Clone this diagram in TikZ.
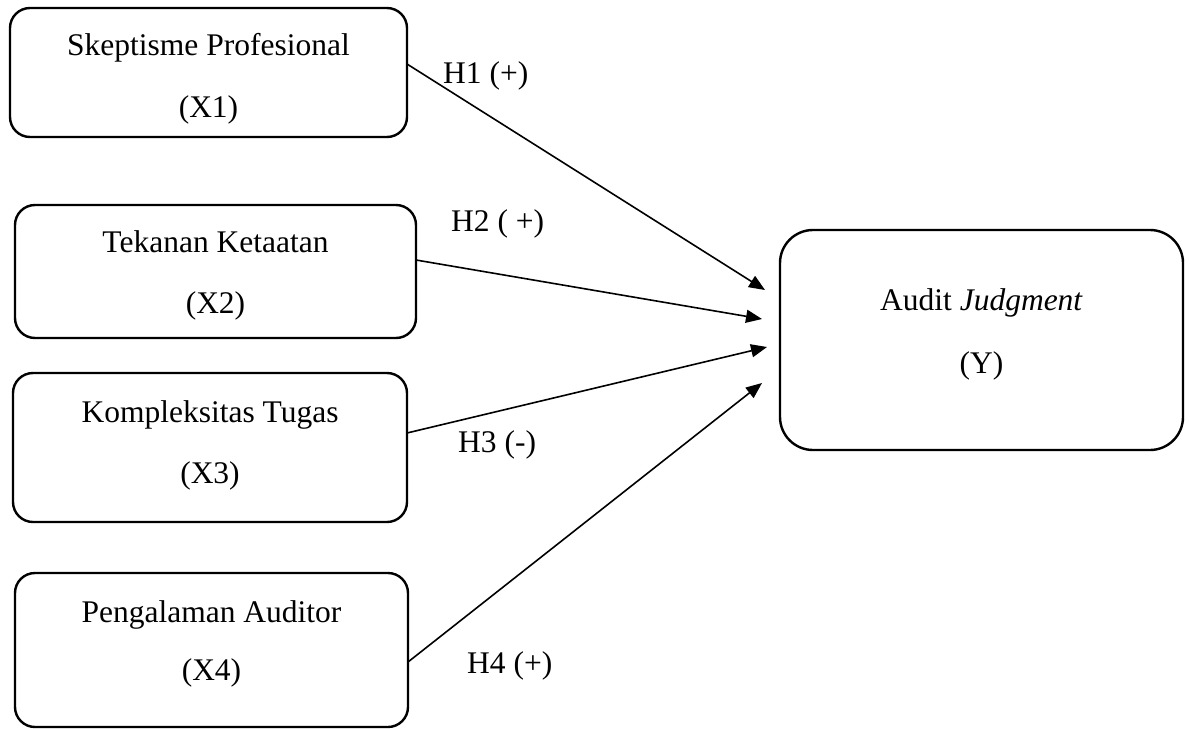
\documentclass[tikz,border=0pt]{standalone}
\usepackage{fontspec}
\setmainfont{Liberation Serif}
\usetikzlibrary{shapes,arrows.meta}
\tikzstyle{varbox} = [rectangle, rounded corners=20pt, draw=black, line width=2.4pt, inner sep=0pt, outer sep=0pt]
\tikzstyle{vartext} = [anchor=base, inner sep=0pt]
\tikzstyle{hyp} = [anchor=base west, inner sep=0pt]
\tikzstyle{arrow} = [line width=1.6pt, -{Triangle[length=16pt,width=13pt]}]

\begin{document}
\begin{tikzpicture}[x=1pt, y=-1pt, font=\fontsize{31.5}{38}\selectfont]
\useasboundingbox (0,0) rectangle (1190,728);

\node (x1) [varbox, minimum width=397pt, minimum height=129pt] at (208.5,72.5) {};
\node (x2) [varbox, minimum width=401pt, minimum height=133pt] at (215.5,271.5) {};
\node (x3) [varbox, minimum width=394pt, minimum height=149pt] at (210,447.5) {};
\node (x4) [varbox, minimum width=393pt, minimum height=154pt] at (211.5,650) {};
\node (y) [varbox, rounded corners=33pt, minimum width=403pt, minimum height=220pt] at (981.5,340) {};

\node (x1name) [vartext] at ([yshift=-47pt]x1.north) {Skeptisme Profesional};
\node (x1code) [vartext] at ([yshift=-109pt]x1.north) {(X1)};
\node (x2name) [vartext] at ([yshift=-47pt]x2.north) {Tekanan Ketaatan};
\node (x2code) [vartext] at ([yshift=-108pt]x2.north) {(X2)};
\node (x3name) [vartext] at ([yshift=-49pt]x3.north) {Kompleksitas Tugas};
\node (x3code) [vartext] at ([yshift=-110pt]x3.north) {(X3)};
\node (x4name) [vartext] at ([yshift=-49pt]x4.north) {Pengalaman Auditor};
\node (x4code) [vartext] at ([yshift=-107pt]x4.north) {(X4)};
\node (yname) [vartext] at ([yshift=30pt]y.center) {Audit \textit{Judgment}};
\node (ycode) [vartext] at ([yshift=-33pt]y.center) {(Y)};

\draw [arrow] ([yshift=8.5pt]x1.east) -- ([xshift=-15pt,yshift=50pt]y.west);
\draw [arrow] ([yshift=11.5pt]x2.east) -- ([xshift=-18pt,yshift=21pt]y.west);
\draw [arrow] ([yshift=14.5pt]x3.east) -- ([xshift=-13pt,yshift=-7pt]y.west);
\draw [arrow] ([yshift=-12pt]x4.east) -- ([xshift=-18pt,yshift=-43pt]y.west);

\node (h1) [hyp] at (443,83) {H1 (+)};
\node (h2) [hyp] at (451,231) {H2 ( +)};
\node (h3) [hyp] at (458,452) {H3 (-)};
\node (h4) [hyp] at (467,673) {H4 (+)};

\end{tikzpicture}
\end{document}
